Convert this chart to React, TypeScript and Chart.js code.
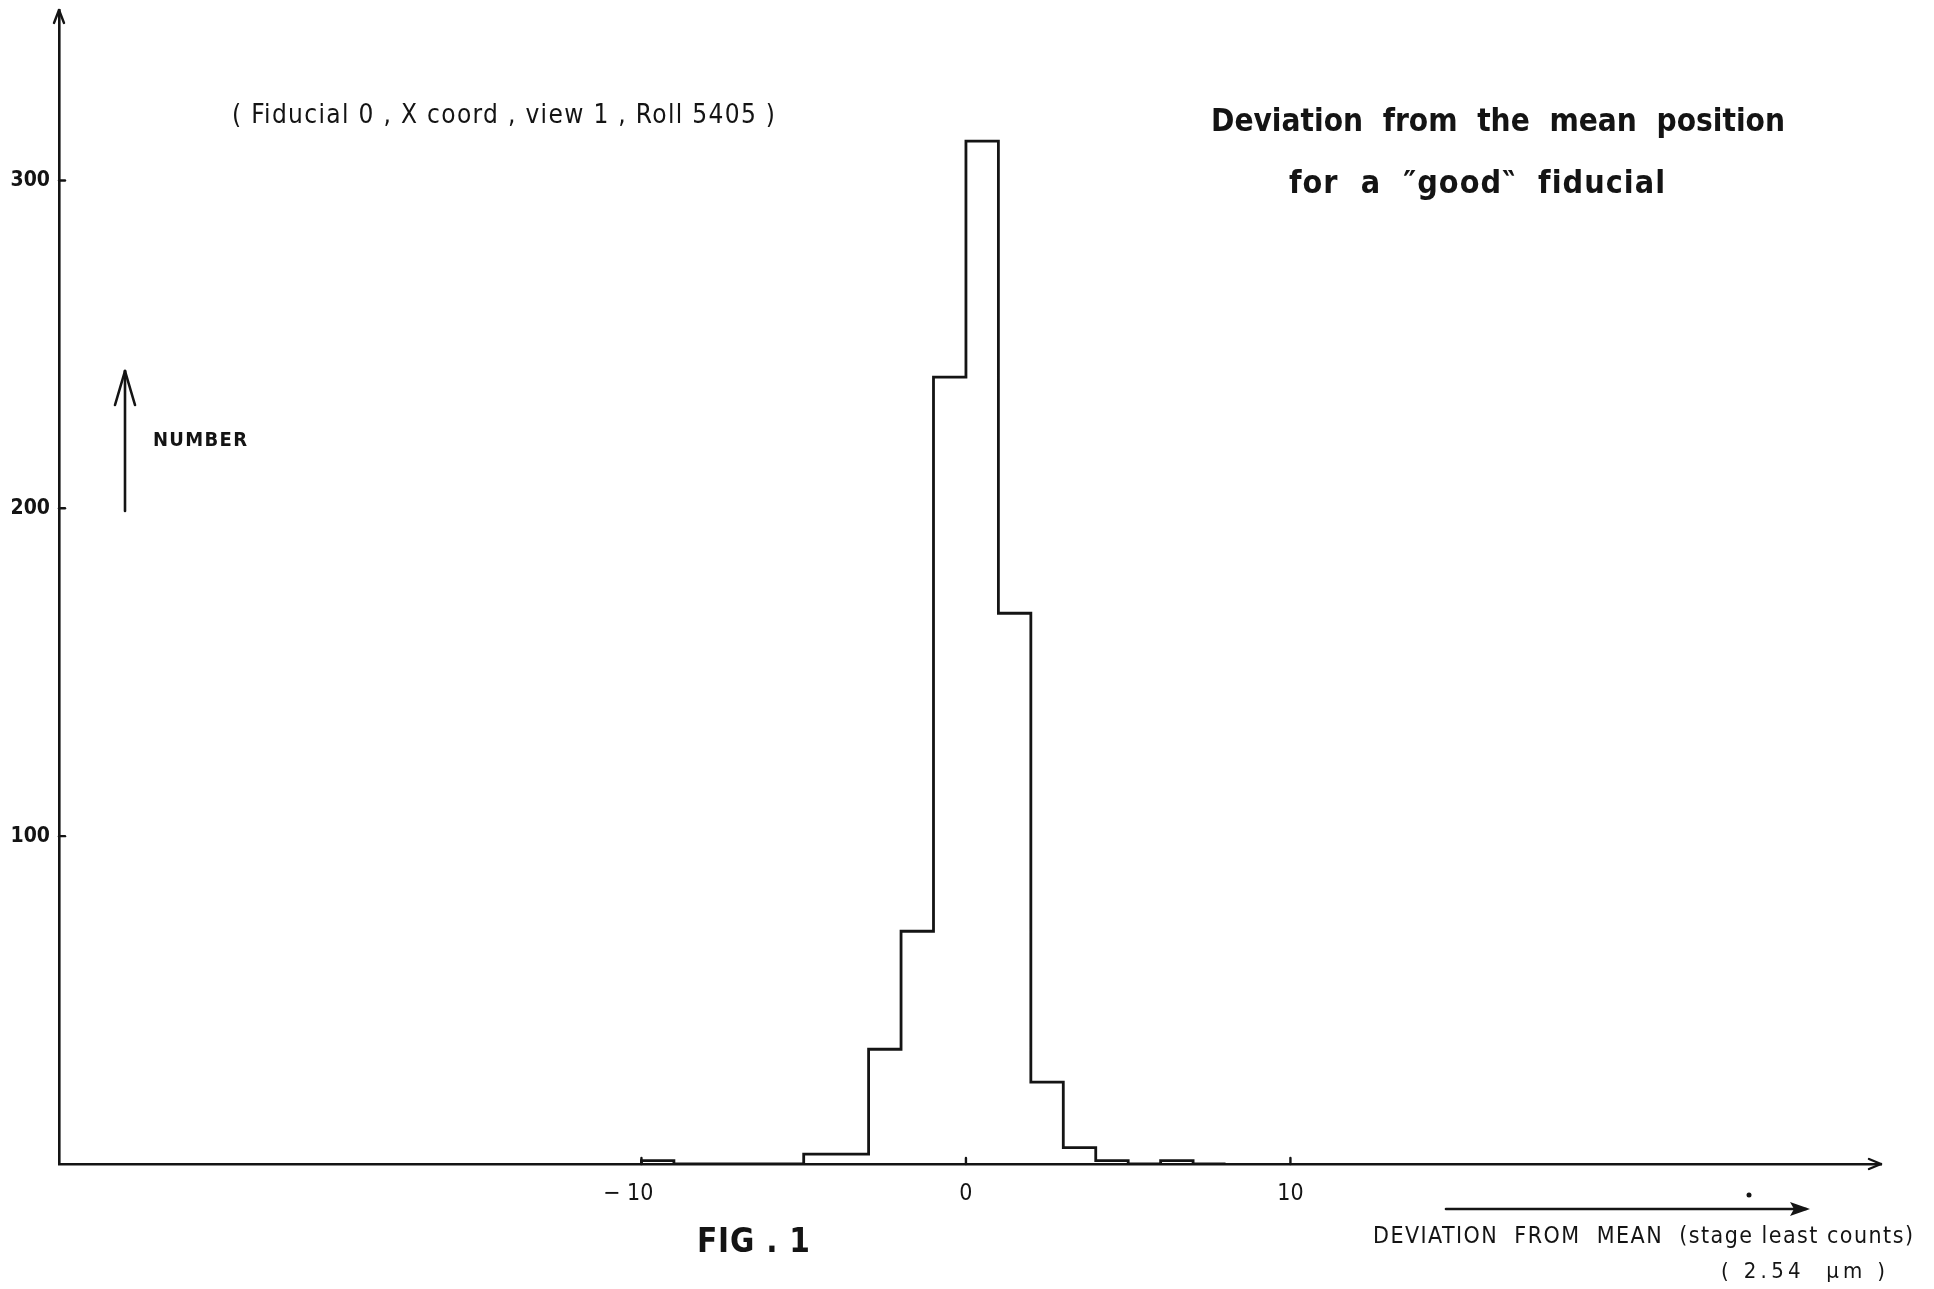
import React, { useEffect, useRef } from "react";
import { Chart, registerables } from "chart.js";

Chart.register(...registerables);

// Histogram bins: left edge of each unit-wide bin and its count
const binEdges = [-10, -9, -8, -7, -6, -5, -4, -3, -2, -1, 0, 1, 2, 3, 4, 5, 6, 7, 8];
const binCounts = [1, 0, 0, 0, 0, 3, 3, 35, 71, 240, 312, 168, 25, 5, 1, 0, 1, 0];

const xTickValues = [-10, 0, 10];
const yTickValues = [100, 200, 300];

const X_MIN = -27.95;
const X_MAX = 28.2;
const Y_MIN = 0;
const Y_MAX = 352;

const FAMILY = '"DejaVu Sans Condensed", "DejaVu Sans", sans-serif';
const INK = "#141414";

function fitText(ctx: CanvasRenderingContext2D, text: string, x: number, y: number, font: string, width: number) {
  ctx.save();
  ctx.font = font;
  ctx.fillStyle = INK;
  ctx.textAlign = "left";
  ctx.textBaseline = "alphabetic";
  (ctx as any).letterSpacing = "0px";
  const w = ctx.measureText(text).width;
  if (w < width && text.length > 1) {
    (ctx as any).letterSpacing = (width - w) / (text.length - 1) + "px";
    ctx.fillText(text, x, y);
  } else {
    ctx.translate(x, y);
    ctx.scale(width / w, 1);
    ctx.fillText(text, 0, 0);
  }
  ctx.restore();
}

function line(ctx: CanvasRenderingContext2D, x1: number, y1: number, x2: number, y2: number, w = 2.5) {
  ctx.save();
  ctx.strokeStyle = INK;
  ctx.lineWidth = w;
  ctx.lineCap = "round";
  ctx.beginPath();
  ctx.moveTo(x1, y1);
  ctx.lineTo(x2, y2);
  ctx.stroke();
  ctx.restore();
}

const decorPlugin = {
  id: "decor",
  afterDraw(chart: any) {
    const ctx: CanvasRenderingContext2D = chart.ctx;
    const xs = chart.scales.x;
    const ys = chart.scales.y;
    const x0 = xs.left;
    const yBase = ys.getPixelForValue(0);
    const xRight = xs.right;
    const yTop = ys.top;

    // axis arrowheads
    line(ctx, x0, yTop, x0 - 5, yTop + 13, 2.4);
    line(ctx, x0, yTop, x0 + 5, yTop + 13, 2.4);
    line(ctx, xRight, yBase, xRight - 12, yBase - 5, 2.4);
    line(ctx, xRight, yBase, xRight - 12, yBase + 5, 2.4);

    // inward tick marks
    yTickValues.forEach((v) => {
      const py = ys.getPixelForValue(v);
      line(ctx, x0, py, x0 + 6, py, 2.4);
    });
    xTickValues.forEach((v) => {
      const px = xs.getPixelForValue(v);
      line(ctx, px, yBase, px, yBase - 6, 2.4);
    });

    // NUMBER arrow
    line(ctx, 125, 511, 125, 371, 2.6);
    line(ctx, 125, 371, 115, 405, 2.6);
    line(ctx, 125, 371, 135, 405, 2.6);

    // x label arrow
    line(ctx, 1446, 1209, 1806, 1209, 2.6);
    ctx.save();
    ctx.fillStyle = INK;
    ctx.beginPath();
    ctx.moveTo(1810, 1209);
    ctx.lineTo(1790, 1202);
    ctx.lineTo(1794, 1209);
    ctx.lineTo(1790, 1216);
    ctx.closePath();
    ctx.fill();
    ctx.beginPath();
    ctx.arc(1749, 1195, 2.5, 0, Math.PI * 2);
    ctx.fill();
    ctx.restore();

    // texts
    fitText(ctx, "( Fiducial 0 , X coord , view 1 , Roll 5405 )", 232, 123, `26px ${FAMILY}`, 543);
    fitText(ctx, "Deviation  from  the  mean  position", 1211, 131, `bold 32px ${FAMILY}`, 574);
    fitText(ctx, "for  a  \u2033good\u2036  fiducial", 1289, 193, `bold 32px ${FAMILY}`, 375);
    fitText(ctx, "NUMBER", 153, 446, `bold 20px ${FAMILY}`, 94);
    fitText(ctx, "FIG . 1", 697, 1252, `bold 33px ${FAMILY}`, 113);
    fitText(ctx, "DEVIATION  FROM  MEAN  (stage least counts)", 1373, 1243, `23px ${FAMILY}`, 540);
    fitText(ctx, "( 2.54  \u03bcm )", 1721, 1278, `22px ${FAMILY}`, 164);
  },
};

export default function App() {
  const canvasRef = useRef<HTMLCanvasElement | null>(null);

  useEffect(() => {
    const canvas = canvasRef.current;
    if (!canvas) return;
    const points = [
      { x: binEdges[0], y: 0 },
      ...binCounts.map((c, i) => ({ x: binEdges[i], y: c })),
      { x: binEdges[binEdges.length - 1], y: 0 },
    ];
    const chart = new Chart(canvas, {
      type: "line",
      data: {
        datasets: [
          {
            data: points,
            stepped: "before",
            borderColor: INK,
            borderWidth: 2.8,
            pointRadius: 0,
            fill: false,
            tension: 0,
          } as any,
        ],
      },
      options: {
        responsive: false,
        animation: false,
        devicePixelRatio: 1,
        layout: { padding: { top: 10, right: 53, left: 0, bottom: 0 } },
        plugins: { legend: { display: false }, tooltip: { enabled: false }, title: { display: false } },
        scales: {
          x: {
            type: "linear",
            min: X_MIN,
            max: X_MAX,
            afterBuildTicks: (s: any) => {
              s.ticks = xTickValues.map((v) => ({ value: v }));
            },
            afterFit: (s: any) => {
              s.height = 125;
              s.paddingLeft = 0;
              s.paddingRight = 0;
            },
            grid: { display: false, drawTicks: false },
            border: { display: true, color: INK, width: 2.6 },
            ticks: {
              autoSkip: false,
              maxRotation: 0,
              padding: 16,
              color: INK,
              font: { family: FAMILY, size: 23 },
              callback: (v: any) =>
                Number(v) < 0 ? "\u2212 " + Math.abs(Number(v)) + "\u2007\u2007" : String(v),
            },
          },
          y: {
            type: "linear",
            min: Y_MIN,
            max: Y_MAX,
            afterBuildTicks: (s: any) => {
              s.ticks = yTickValues.map((v) => ({ value: v }));
            },
            afterFit: (s: any) => {
              s.width = 59;
              s.paddingTop = 0;
              s.paddingBottom = 0;
            },
            grid: { display: false, drawTicks: false },
            border: { display: true, color: INK, width: 2.6 },
            ticks: {
              autoSkip: false,
              padding: 9,
              color: INK,
              font: { family: FAMILY, size: 21, weight: "bold" },
            },
          },
        },
      } as any,
      plugins: [decorPlugin],
    });
    return () => chart.destroy();
  }, []);

  return (
    <div style={{ position: "fixed", left: 0, top: 0, width: 1934, height: 1289, background: "#fff", overflow: "hidden" }}>
      <canvas ref={canvasRef} width={1934} height={1289} style={{ display: "block", width: 1934, height: 1289 }} />
    </div>
  );
}
